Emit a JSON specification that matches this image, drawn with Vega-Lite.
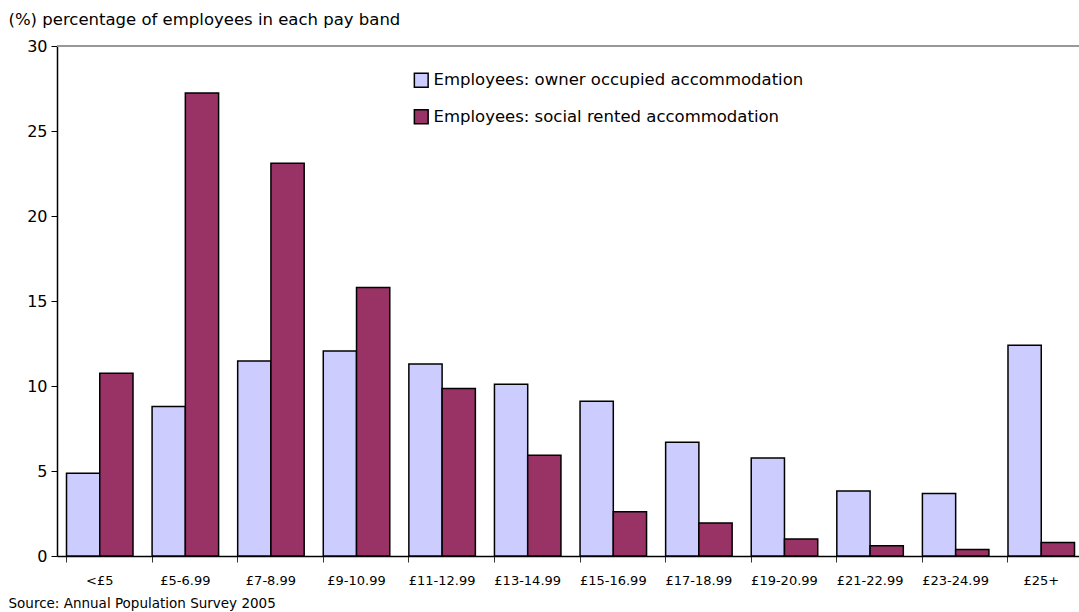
{
  "$schema": "https://vega.github.io/schema/vega-lite/v6.json",
  "width": 1022,
  "height": 510,
  "autosize": {"type": "none"},
  "padding": {"left": 57, "top": 46, "right": 0, "bottom": 56},
  "background": "white",
  "config": {
    "font": "DejaVu Sans",
    "view": {"stroke": null},
    "axis": {"labelFont": "DejaVu Sans", "titleFont": "DejaVu Sans", "labelColor": "#000", "titleColor": "#000"},
    "legend": {"labelFont": "DejaVu Sans"}
  },
  "data": {
    "values": [
      {"band": "<£5", "series": "Employees: owner occupied accommodation", "pct": 4.87},
      {"band": "<£5", "series": "Employees: social rented accommodation", "pct": 10.75},
      {"band": "£5-6.99", "series": "Employees: owner occupied accommodation", "pct": 8.8},
      {"band": "£5-6.99", "series": "Employees: social rented accommodation", "pct": 27.24},
      {"band": "£7-8.99", "series": "Employees: owner occupied accommodation", "pct": 11.47},
      {"band": "£7-8.99", "series": "Employees: social rented accommodation", "pct": 23.1},
      {"band": "£9-10.99", "series": "Employees: owner occupied accommodation", "pct": 12.06},
      {"band": "£9-10.99", "series": "Employees: social rented accommodation", "pct": 15.79},
      {"band": "£11-12.99", "series": "Employees: owner occupied accommodation", "pct": 11.29},
      {"band": "£11-12.99", "series": "Employees: social rented accommodation", "pct": 9.85},
      {"band": "£13-14.99", "series": "Employees: owner occupied accommodation", "pct": 10.1},
      {"band": "£13-14.99", "series": "Employees: social rented accommodation", "pct": 5.92},
      {"band": "£15-16.99", "series": "Employees: owner occupied accommodation", "pct": 9.1},
      {"band": "£15-16.99", "series": "Employees: social rented accommodation", "pct": 2.61},
      {"band": "£17-18.99", "series": "Employees: owner occupied accommodation", "pct": 6.69},
      {"band": "£17-18.99", "series": "Employees: social rented accommodation", "pct": 1.94},
      {"band": "£19-20.99", "series": "Employees: owner occupied accommodation", "pct": 5.76},
      {"band": "£19-20.99", "series": "Employees: social rented accommodation", "pct": 1.0},
      {"band": "£21-22.99", "series": "Employees: owner occupied accommodation", "pct": 3.82},
      {"band": "£21-22.99", "series": "Employees: social rented accommodation", "pct": 0.61},
      {"band": "£23-24.99", "series": "Employees: owner occupied accommodation", "pct": 3.67},
      {"band": "£23-24.99", "series": "Employees: social rented accommodation", "pct": 0.38},
      {"band": "£25+", "series": "Employees: owner occupied accommodation", "pct": 12.39},
      {"band": "£25+", "series": "Employees: social rented accommodation", "pct": 0.8}
    ]
  },
  "layer": [
    {
      "mark": {"type": "rule", "color": "#999999", "strokeWidth": 1.5},
      "encoding": {"y": {"datum": 30, "type": "quantitative"}}
    },
    {
      "mark": {"type": "bar", "stroke": "black", "strokeWidth": 1.5},
      "encoding": {
        "x": {
          "field": "band",
          "type": "nominal",
          "sort": null,
          "scale": {"range": [0, 1027], "paddingInner": 0.223, "paddingOuter": 0.111},
          "axis": {
            "bandPosition": 0,
            "labelAngle": 0,
            "labelFontSize": 13,
            "labelPadding": 12,
            "tickSize": 6,
            "tickColor": "#333",
            "domainColor": "#000",
            "domainWidth": 1.5,
            "title": "Source: Annual Population Survey 2005",
            "titleFontSize": 13.5,
            "titleFontWeight": "normal",
            "titleX": -49,
            "titleY": 47,
            "titleAlign": "left",
            "titleBaseline": "middle",
            "titleAnchor": "start"
          }
        },
        "xOffset": {"field": "series", "type": "nominal", "sort": null},
        "y": {
          "field": "pct",
          "type": "quantitative",
          "scale": {"domain": [0, 30], "nice": false},
          "axis": {
            "values": [0, 5, 10, 15, 20, 25, 30],
            "grid": false,
            "labelFontSize": 16,
            "labelPadding": 4,
            "tickSize": 6,
            "tickColor": "#000",
            "domainColor": "#000",
            "domainWidth": 1.5,
            "title": "(%) percentage of employees in each pay band",
            "titleFontSize": 16.5,
            "titleFontWeight": "normal",
            "titleAngle": 0,
            "titleX": -49,
            "titleY": -27,
            "titleAlign": "left",
            "titleBaseline": "middle",
            "titleAnchor": "start"
          }
        },
        "color": {
          "field": "series",
          "type": "nominal",
          "scale": {
            "domain": ["Employees: owner occupied accommodation", "Employees: social rented accommodation"],
            "range": ["#CCCCFF", "#993366"]
          },
          "legend": {
            "title": null,
            "orient": "none",
            "legendX": 356,
            "legendY": 26,
            "padding": 0,
            "symbolType": "square",
            "symbolSize": 190,
            "symbolStrokeColor": "black",
            "symbolStrokeWidth": 1.5,
            "symbolOpacity": 1,
            "labelFontSize": 16.5,
            "labelLimit": 600,
            "labelOffset": 4,
            "rowPadding": 15.5
          }
        }
      }
    }
  ]
}
